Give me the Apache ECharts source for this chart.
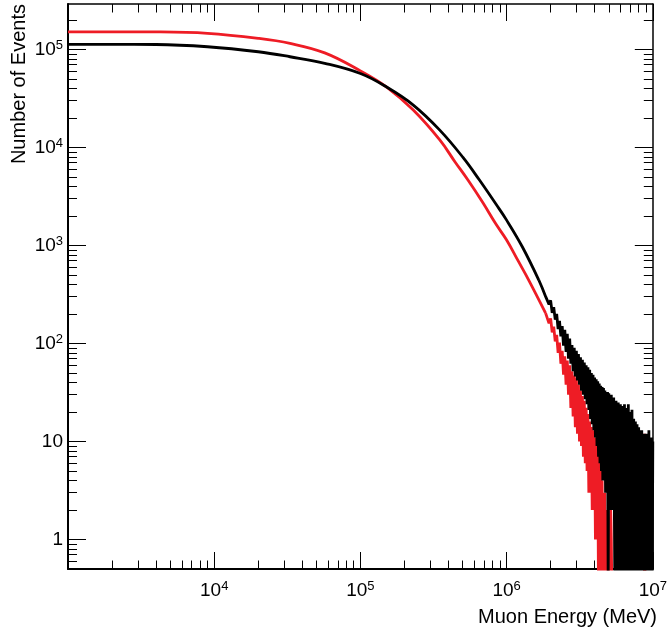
<!DOCTYPE html>
<html><head><meta charset="utf-8">
<script src="https://cdn.jsdelivr.net/npm/echarts@6/dist/echarts.min.js"></script>
<style>html,body{margin:0;padding:0;background:#fff}#chart{width:670px;height:638px}</style>
</head><body><div id="chart"></div>
<script>
// ---------- data (muon energy in MeV, number of events) ----------
// red histogram: smooth part
const redEnergy = [1000, 2000, 4000, 9000, 20000, 33000, 57000, 100000, 152000, 230000, 349000, 444000, 544000, 687000, 845000, 1000000, 1200000, 1416000, 1848000];
const redCounts = [151000, 151000, 150500, 145500, 129500, 115000, 92000, 60300, 41000, 24000, 11900, 7100, 4640, 2735, 1650, 1135, 694, 443, 204];
// red histogram: fluctuating tail (bins)
const redTailEnergy = [1.90e6,1.95e6,2.00e6,2.05e6,2.10e6,2.15e6,2.20e6,2.25e6,2.30e6,2.35e6,2.40e6,2.45e6,2.50e6,2.55e6,2.60e6,2.65e6,2.70e6,2.75e6,2.80e6,2.85e6,2.90e6,2.95e6,3.00e6,3.05e6,3.10e6,3.15e6,3.20e6,3.25e6,3.30e6,3.35e6,3.40e6,3.45e6,3.50e6,3.55e6,3.60e6,3.65e6,3.70e6,3.75e6,3.80e6,3.85e6,3.90e6,3.95e6,4.00e6,4.05e6,4.10e6,4.15e6,4.20e6,4.25e6,4.30e6,4.35e6,4.40e6,4.45e6,4.50e6,4.55e6,4.60e6,4.65e6,4.70e6,4.75e6,4.80e6,4.85e6,4.90e6,4.95e6];
const redTailCounts = [200,160,180,130,148,105,122,80,102,62,84,48,74,38,67,30,60,22,52,18,47,14,44,12,38,10,33,9,29,7,26,6,22,5,19,3,16,3,14,2,13,2,11,1,9,1,8,0,7,0,7,0,4,0,3,0,3,0,2,0,2,0];
const redFarEnergy = [5.10e6, 5.15e6, 5.20e6, 5.25e6, 8.75e6, 8.80e6, 8.85e6, 1.0e7];
const redFarCounts = [0, 2, 1, 0, 0, 12, 0, 0];

// black histogram: smooth part
const blackEnergy = [1000, 2000, 4000, 9000, 20000, 33000, 57000, 100000, 152000, 230000, 349000, 503000, 652000, 845000, 1000000, 1280000, 1660000];
const blackCounts = [112500, 112300, 112000, 106300, 94500, 84000, 72000, 56600, 41000, 27000, 15000, 7900, 4640, 2640, 1810, 969, 443];
// black histogram: fluctuating tail
const blackTailEnergy = [1.70e6,1.75e6,1.80e6,1.85e6,1.90e6,1.95e6,2.00e6,2.05e6,2.10e6,2.15e6,2.20e6,2.25e6,2.30e6,2.35e6,2.40e6,2.45e6,2.50e6,2.55e6,2.60e6,2.65e6,2.70e6,2.75e6,2.80e6,2.85e6,2.90e6,2.95e6,3.00e6,3.05e6,3.10e6,3.15e6,3.20e6,3.25e6,3.30e6,3.35e6,3.40e6,3.45e6,3.50e6,3.55e6,3.60e6,3.65e6,3.70e6,3.75e6,3.80e6,3.85e6,3.90e6,3.95e6,4.00e6,4.05e6,4.10e6,4.15e6,4.20e6,4.25e6,4.30e6,4.35e6,4.40e6,4.45e6,4.50e6,4.55e6,4.60e6,4.65e6,4.70e6,4.75e6,4.80e6,4.85e6,4.90e6,4.95e6];
const blackTailCounts = [425,370,360,300,305,250,275,205,235,175,200,140,170,118,150,95,138,82,125,70,112,62,96,52,90,46,84,42,78,38,72,33,68,30,64,27,60,24,57,21,54,17,50,15,48,13,45,11,43,9,41,7,39,6,37,5,36,4,35,4,33,3,32,3,32,0];
const blackFarEnergy = [5.0e6,5.1e6,5.2e6,5.3e6,5.4e6,5.5e6,5.6e6,5.7e6,5.8e6,5.9e6,6.0e6,6.1e6,6.2e6,6.3e6,6.4e6,6.5e6,6.6e6,6.7e6,6.8e6,6.9e6,7.0e6,7.1e6,7.2e6,7.3e6,7.4e6,7.5e6,7.6e6,7.7e6,7.8e6,7.9e6,8.0e6,8.1e6,8.2e6,8.3e6,8.4e6,8.5e6,8.6e6,8.7e6,8.8e6,8.9e6,9.0e6,9.1e6,9.2e6,9.3e6,9.4e6,9.5e6,9.6e6,9.7e6,9.8e6,9.9e6,1.0e7];
const blackFarCounts = [31,2,30,2,28,0,26,0,25,0,24,0,23,0,24,0,22,0,24,0,20,0,21,0,17,0,16,0,15,0,14,0,13,0,13,0,12,0,12,0,12,0,11,0,13,0,11,0,11,0,10];

// ---------- axis ticks ----------
const xMajorTicks = [1e3, 1e4, 1e5, 1e6, 1e7];
const xLabelTicks = [1e4, 1e5, 1e6, 1e7];
const xMinorTicks = [2e3,3e3,4e3,5e3,6e3,7e3,8e3,9e3, 2e4,3e4,4e4,5e4,6e4,7e4,8e4,9e4, 2e5,3e5,4e5,5e5,6e5,7e5,8e5,9e5, 2e6,3e6,4e6,5e6,6e6,7e6,8e6,9e6];
const yMajorTicks = [1, 10, 100, 1e3, 1e4, 1e5];
const yMinorTicks = [0.6,0.7,0.8,0.9, 2,3,4,5,6,7,8,9, 20,30,40,50,60,70,80,90, 200,300,400,500,600,700,800,900, 2e3,3e3,4e3,5e3,6e3,7e3,8e3,9e3, 2e4,3e4,4e4,5e4,6e4,7e4,8e4,9e4, 2e5];

const X_MIN = 1e3, X_MAX = 1e7, Y_MIN = 0.5, Y_MAX = 2.9e5;
const EMPTY_BIN_DRAW = 0.3; // empty bins drawn below the axis floor (log scale)

const FONT = '"Liberation Sans", Arial, Helvetica, sans-serif';

function pairs(es, cs) { return es.map((e, i) => [e, cs[i] > 0 ? cs[i] : EMPTY_BIN_DRAW]); }
const redSmoothData = pairs(redEnergy, redCounts);
const redTailData = [redSmoothData[redSmoothData.length - 1]].concat(pairs(redTailEnergy, redTailCounts), pairs(redFarEnergy, redFarCounts));
const blackSmoothData = pairs(blackEnergy, blackCounts);
const blackTailData = [blackSmoothData[blackSmoothData.length - 1]].concat(pairs(blackTailEnergy, blackTailCounts), pairs(blackFarEnergy, blackFarCounts));

function powLabel(v) {
  const n = Math.round(Math.log10(v));
  if (n === 0) return '{b|1}';
  if (n === 1) return '{b|10}';
  return '{b|10}{s|' + n + '}';
}
const rich = {
  b: { fontSize: 19, fontFamily: FONT, color: '#000', lineHeight: 21 },
  s: { fontSize: 13, fontFamily: FONT, color: '#000', verticalAlign: 'top', lineHeight: 21 }
};

function makeAxis(kind, pos, ticks, len, labelTicks, lineW) {
  const ax = {
    type: 'log', logBase: 10, gridIndex: 0, position: pos,
    min: kind === 'x' ? X_MIN : Y_MIN, max: kind === 'x' ? X_MAX : Y_MAX,
    splitLine: { show: false }, minorTick: { show: false }, minorSplitLine: { show: false },
    axisLine: { show: lineW > 0, onZero: false, lineStyle: { color: '#000', width: lineW } },
    axisTick: { show: true, inside: true, length: len, customValues: ticks, lineStyle: { color: '#000', width: 1 } },
    axisLabel: { show: false },
    silent: true
  };
  if (labelTicks) {
    ax.axisLabel = {
      show: true, customValues: labelTicks, formatter: powLabel, rich: rich,
      margin: kind === 'x' ? 11 : 5, color: '#000', fontFamily: FONT, fontSize: 19,
      showMinLabel: true, showMaxLabel: true, hideOverlap: false
    };
  }
  return ax;
}

function lineSeries(name, data, color, smooth, z) {
  return { type: 'line', name: name, xAxisIndex: 0, yAxisIndex: 0, data: data, symbol: 'none', showSymbol: false,
    smooth: smooth, clip: true, silent: true, lineStyle: { color: color, width: 2.8, join: 'bevel' }, z: z };
}

const chart = echarts.init(document.getElementById('chart'), null, { renderer: 'canvas' });
chart.setOption({
  animation: false,
  backgroundColor: '#fff',
  grid: { left: 68, top: 4, width: 590, height: 565, containLabel: false },
  xAxis: [
    makeAxis('x', 'bottom', xMajorTicks, 17, xLabelTicks, 2),
    makeAxis('x', 'bottom', xMinorTicks, 8.5, null, 0),
    makeAxis('x', 'top', xMajorTicks, 17, null, 1.5),
    makeAxis('x', 'top', xMinorTicks, 8.5, null, 0)
  ],
  yAxis: [
    makeAxis('y', 'left', yMajorTicks, 18, yMajorTicks, 2),
    makeAxis('y', 'left', yMinorTicks, 9, null, 0),
    makeAxis('y', 'right', yMajorTicks, 18, null, 1.5),
    makeAxis('y', 'right', yMinorTicks, 9, null, 0)
  ],
  series: [
    lineSeries('red', redSmoothData, '#ee1c25', 0.4, 2),
    lineSeries('red tail', redTailData, '#ee1c25', false, 2),
    lineSeries('black', blackSmoothData, '#000000', 0.4, 3),
    lineSeries('black tail', blackTailData, '#000000', false, 3)
  ],
  graphic: [
    { type: 'text', x: 657, y: 607, silent: true,
      style: { text: 'Muon Energy (MeV)', font: '20px ' + FONT, fill: '#000', textAlign: 'right', textVerticalAlign: 'top', align: 'right', verticalAlign: 'top' } },
    { type: 'text', x: 29, y: 4, rotation: Math.PI / 2, silent: true,
      style: { text: 'Number of Events', font: '20px ' + FONT, fill: '#000', textAlign: 'right', textVerticalAlign: 'bottom', align: 'right', verticalAlign: 'bottom' } }
  ]
});
</script>
</body></html>
